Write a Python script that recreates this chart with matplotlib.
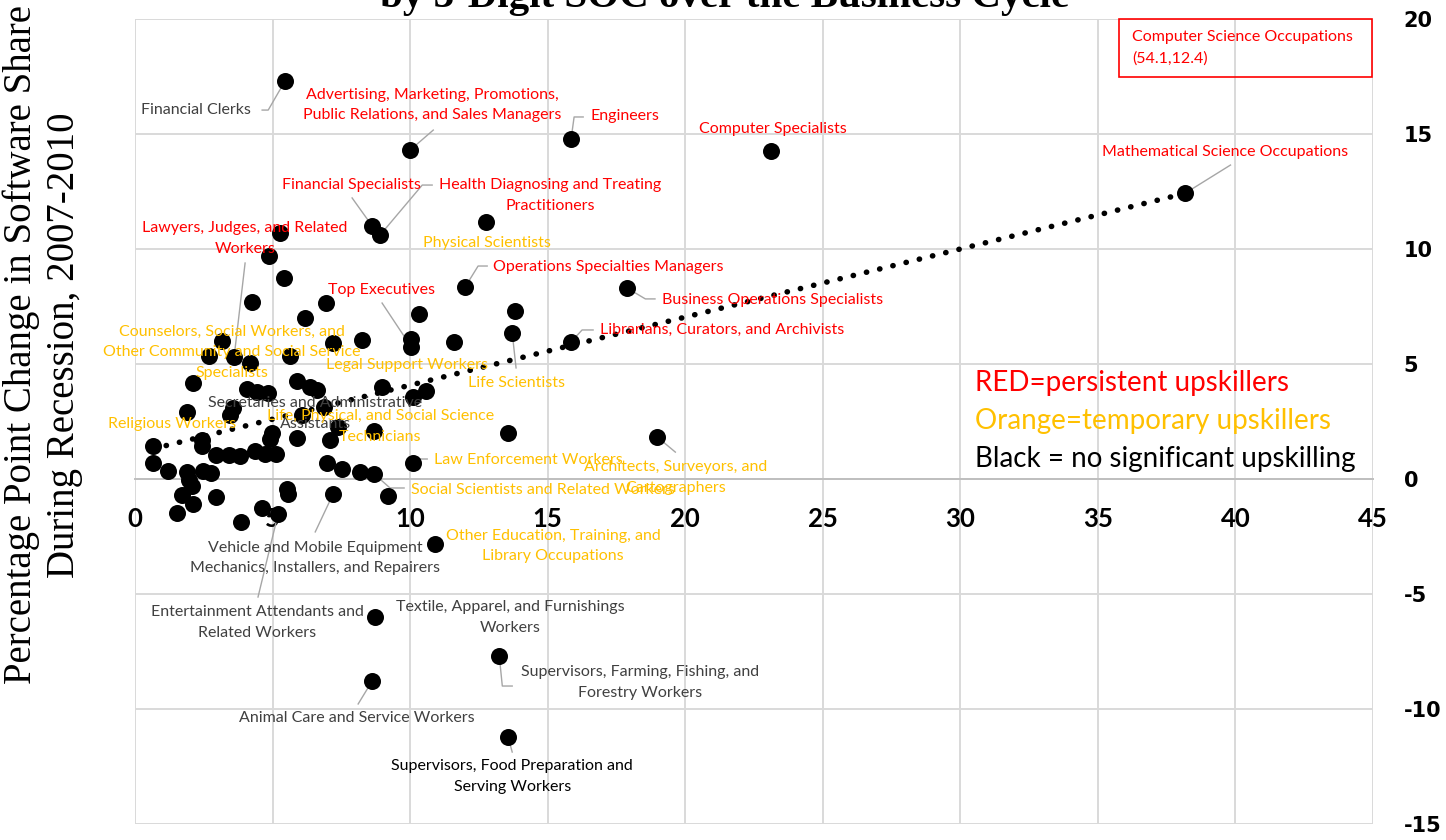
import numpy as np
import matplotlib
matplotlib.use("Agg")
import matplotlib.pyplot as plt
from matplotlib.patches import Rectangle

plt.rcParams["axes.unicode_minus"] = False

# change in software share, x = ?, y = pp change during recession
x_vals = [5.45, 10.0, 15.85, 23.13, 38.18, 8.62, 8.91, 12.76, 5.27, 4.87,
          5.42, 4.25, 6.95, 6.18, 10.33, 13.82, 12.0, 17.89, 3.16, 7.2,
          8.25, 10.04, 10.04, 11.6, 13.71, 15.85, 2.69, 3.6, 4.18, 5.64,
          2.11, 4.07, 4.44, 4.84, 5.89, 6.36, 6.62, 8.98, 10.11, 10.58,
          1.89, 3.45, 3.56, 6.07, 6.87, 7.38, 8.69, 13.56, 18.98, 0.65,
          2.44, 2.44, 4.98, 4.91, 5.89, 7.09, 2.95, 3.42, 3.82, 4.36,
          4.73, 5.13, 0.65, 1.2, 1.89, 1.96, 2.07, 2.47, 2.76, 6.98,
          7.53, 8.18, 8.69, 10.11, 1.71, 2.11, 2.95, 5.53, 5.56, 7.2,
          9.2, 1.53, 4.62, 5.2, 3.85, 10.91, 8.73, 13.24, 8.62, 13.56]
y_vals = [17.3, 14.3, 14.78, 14.26, 12.43, 11.0, 10.61, 11.17, 10.7, 9.7,
          8.74, 7.7, 7.65, 7.0, 7.17, 7.3, 8.35, 8.3, 6.0, 5.91,
          6.04, 6.09, 5.74, 5.96, 6.35, 5.96, 5.35, 5.3, 5.04, 5.35,
          4.17, 3.91, 3.78, 3.74, 4.26, 4.0, 3.87, 4.0, 3.57, 3.83,
          2.91, 2.78, 3.09, 2.78, 3.13, 2.26, 2.09, 2.0, 1.83, 1.43,
          1.7, 1.43, 2.0, 1.74, 1.78, 1.7, 1.04, 1.04, 1.0, 1.22,
          1.09, 1.09, 0.7, 0.35, 0.3, -0.04, -0.3, 0.35, 0.26, 0.7,
          0.43, 0.3, 0.22, 0.7, -0.7, -1.09, -0.78, -0.43, -0.65, -0.65,
          -0.74, -1.48, -1.26, -1.52, -1.87, -2.83, -6.0, -7.7, -8.78, -11.22]

# linear trend
trend_slope = 0.296
trend_intercept = 1.12

RED = "#FF0000"
ORANGE = "#FFC000"
GREY = "#404040"

# label text, colour, centre/anchor (x, y), horizontal alignment, leader polyline
labels = [
    ("Financial Clerks", GREY, (2.22, 16.04), "center", [(4.62, 16.04), (4.84, 16.04), (5.45, 17.3)]),
    ("Advertising, Marketing, Promotions,\nPublic Relations, and Sales Managers", RED, (10.8, 16.26), "center",
     [(10.84, 15.17), (10.0, 14.3)]),
    ("Engineers", RED, (16.55, 15.78), "left", [(16.29, 15.74), (15.96, 15.74), (15.85, 14.78)]),
    ("Computer Specialists", RED, (23.2, 15.22), "center", None),
    ("Mathematical Science Occupations", RED, (39.64, 14.22), "center", [(39.82, 13.65), (38.18, 12.43)]),
    ("Financial Specialists", RED, (7.85, 12.78), "center", [(7.89, 12.22), (8.62, 11.0)]),
    ("Health Diagnosing and Treating\nPractitioners", RED, (15.09, 12.33), "center",
     [(10.8, 12.78), (10.44, 12.78), (8.91, 10.61)]),
    ("Lawyers, Judges, and Related\nWorkers", RED, (4.0, 10.46), "center", [(4.0, 9.39), (3.6, 5.3)]),
    ("Physical Scientists", ORANGE, (12.8, 10.26), "center", None),
    ("Operations Specialties Managers", RED, (13.02, 9.22), "left", [(12.8, 9.26), (12.47, 9.26), (12.0, 8.35)]),
    ("Top Executives", RED, (8.95, 8.22), "center", [(8.98, 7.65), (10.04, 5.74)]),
    ("Business Operations Specialists", RED, (19.16, 7.78), "left", [(17.89, 8.3), (18.55, 7.83), (18.9, 7.83)]),
    ("Counselors, Social Workers, and\nOther Community and Social Service\nSpecialists", ORANGE, (3.53, 5.52),
     "center", None),
    ("Librarians, Curators, and Archivists", RED, (16.9, 6.48), "left", [(16.65, 6.48), (16.25, 6.48), (15.85, 5.96)]),
    ("Legal Support Workers", ORANGE, (9.89, 4.96), "center", None),
    ("Life Scientists", ORANGE, (13.85, 4.17), "center", [(13.85, 4.83), (13.71, 6.35)]),
    ("Secretaries and Administrative\nAssistants", GREY, (6.55, 2.85), "center", None),
    ("Religious Workers", ORANGE, (1.35, 2.39), "center", None),
    ("Life, Physical, and Social Science\nTechnicians", ORANGE, (8.91, 2.28), "center", None),
    ("Law Enforcement Workers", ORANGE, (10.87, 0.83), "left", [(10.62, 0.87), (10.29, 0.87), (10.11, 0.7)]),
    ("Architects, Surveyors, and\nCartographers", ORANGE, (19.64, 0.07), "center", [(18.98, 1.83), (19.64, 1.17)]),
    ("Social Scientists and Related Workers", ORANGE, (10.04, -0.48), "left",
     [(9.78, -0.39), (9.27, -0.39), (8.69, 0.22)]),
    ("Other Education, Training, and\nLibrary Occupations", ORANGE, (15.2, -2.91), "center", None),
    ("Vehicle and Mobile Equipment\nMechanics, Installers, and Repairers", GREY, (6.55, -3.43), "center",
     [(6.55, -2.3), (7.2, -0.65)]),
    ("Entertainment Attendants and\nRelated Workers", GREY, (4.44, -6.24), "center", [(4.47, -5.13), (5.2, -1.52)]),
    ("Textile, Apparel, and Furnishings\nWorkers", GREY, (13.64, -6.02), "center", None),
    ("Supervisors, Farming, Fishing, and\nForestry Workers", GREY, (18.36, -8.85), "center",
     [(13.71, -9.0), (13.35, -9.0), (13.24, -7.7)]),
    ("Animal Care and Service Workers", GREY, (8.07, -10.39), "center", [(8.11, -9.78), (8.62, -8.78)]),
    ("Supervisors, Food Preparation and\nServing Workers", "#000000", (13.71, -12.93), "center",
     [(13.71, -11.87), (13.56, -11.22)]),
]

legend_lines = [("RED=persistent upskillers", RED),
                ("Orange=temporary upskillers", ORANGE),
                ("Black = no significant upskilling", "#000000")]

fig = plt.figure(figsize=(14.46, 8.4), dpi=100)
ax = fig.add_axes([0.0934, 0.019, 0.8561, 0.9584])
ax.set_xlim(0, 45)
ax.set_ylim(-15, 20)
ax.set_xticks(np.arange(0, 46, 5))
ax.set_yticks(np.arange(-15, 21, 5))
ax.grid(True, color="#D9D9D9", lw=1.4)
ax.set_axisbelow(True)
for s in ["top", "right", "left"]:
    ax.spines[s].set_visible(False)
ax.spines["bottom"].set_position(("data", 0))
ax.spines["bottom"].set_color("#BFBFBF")
ax.spines["bottom"].set_linewidth(1.4)
ax.tick_params(axis="x", length=0, pad=20)
ax.yaxis.tick_right()
ax.tick_params(axis="y", length=0, pad=22)
for t in ax.get_xticklabels():
    t.set_fontfamily("Lato")
    t.set_fontweight("bold")
    t.set_fontsize(18.5)
for t in ax.get_yticklabels():
    t.set_fontfamily("DejaVu Sans")
    t.set_fontweight("bold")
    t.set_fontsize(15)
    t.set_horizontalalignment("left")

# trend line
xs = np.array(x_vals)
tx = np.array([xs.min(), xs.max()])
ax.plot(tx, trend_slope * tx + trend_intercept, color="black", lw=4,
        linestyle=(0, (0.05, 2.4)), dash_capstyle="round", zorder=3)

ax.scatter(x_vals, y_vals, s=150, color="black", zorder=4, linewidths=0)

for text, col, (lx, ly), ha, leader in labels:
    if leader:
        ax.plot([p[0] for p in leader], [p[1] for p in leader], color="#A6A6A6", lw=1, zorder=2)
    ax.text(lx, ly, text, color=col, ha=ha, va="center", fontsize=11.5, family="Lato",
            linespacing=1.6, zorder=5)

for i, (text, col) in enumerate(legend_lines):
    ax.text(30.55, 4.17 - i * 1.64, text, color=col, fontsize=20, family="Lato", va="center", ha="left")

ax.add_patch(Rectangle((35.75, 17.48), 9.2, 2.52, fill=False, edgecolor=RED, lw=1.2, zorder=5, clip_on=False))
ax.text(36.25, 18.74, "Computer Science Occupations\n(54.1,12.4)", color=RED, fontsize=11.5, family="Lato",
        ha="left", va="center", linespacing=1.6)

fig.text(0.5014, 1 - 7 / 840, "by 3-Digit SOC over the Business Cycle", ha="center", va="baseline",
         fontsize=29.5, family="Liberation Serif", fontweight="bold")
fig.text(0.0297, 1 - 345 / 840, "Percentage Point Change in Software Share\nDuring Recession, 2007-2010",
         rotation=90, ha="center", va="center", fontsize=28, family="Liberation Serif", linespacing=1.2)

fig.savefig("out.png", dpi=100)
